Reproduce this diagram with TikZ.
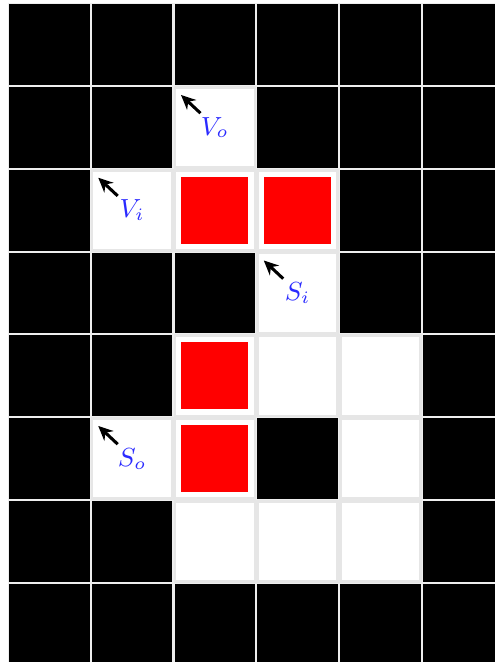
\documentclass[tikz,border=0pt]{standalone}
\usepackage{tikz}
\usetikzlibrary{arrows.meta,positioning,calc}
\definecolor{GridGray}{HTML}{E6E6E6}
\definecolor{WallGap}{HTML}{EEEEEE}
\definecolor{LabelBlue}{HTML}{2A2AFF}
\tikzset{
  wallcell/.style={draw=WallGap,line width=0.35pt,fill=black,minimum size=1cm-0.35pt,inner sep=0pt,outer sep=0pt},
  freecell/.style={draw=GridGray,line width=0.9pt,fill=white,minimum size=1cm-0.9pt,inner sep=0pt,outer sep=0pt},
  blockbox/.style={fill=red,minimum size=0.81cm,inner sep=0pt,outer sep=0pt},
  celllabel/.style={text=LabelBlue,font=\fontsize{8.8}{10}\selectfont,inner sep=1pt},
  ptrarrow/.style={-{Stealth[length=5pt,width=4.6pt]},line width=1.05pt,draw=black}
}
\begin{document}
\begin{tikzpicture}
\useasboundingbox (-0.0967,0.042) rectangle (5.885,-7.958);
\clip (-0.0967,0.042) rectangle (5.885,-7.958);
% walls everywhere first
\foreach \x in {0,...,5}
  \foreach \y in {0,...,7}
    \node[wallcell] (w-\x-\y) at (\x+0.5,-\y-0.5) {};
% open cells
\node[freecell] (vo) at (2.5,-1.5) {};
\node[freecell] (vi) at (1.5,-2.5) {};
\node[freecell] (k1) at (2.5,-2.5) {};
\node[freecell] (k2) at (3.5,-2.5) {};
\node[freecell] (si) at (3.5,-3.5) {};
\node[freecell] (k3) at (2.5,-4.5) {};
\node[freecell] (f1) at (3.5,-4.5) {};
\node[freecell] (f2) at (4.5,-4.5) {};
\node[freecell] (so) at (1.5,-5.5) {};
\node[freecell] (k4) at (2.5,-5.5) {};
\node[freecell] (f3) at (4.5,-5.5) {};
\node[freecell] (f4) at (2.5,-6.5) {};
\node[freecell] (f5) at (3.5,-6.5) {};
\node[freecell] (f6) at (4.5,-6.5) {};
% blocks
\foreach \k in {k1,k2,k3,k4}
  \node[blockbox] (\k-blk) at (\k) {};
% labels
\node[celllabel] (vo-lbl) at (vo) {$V_o$};
\node[celllabel] (vi-lbl) at (vi) {$V_i$};
\node[celllabel] (si-lbl) at (si) {$S_i$};
\node[celllabel] (so-lbl) at (so) {$S_o$};
\foreach \c in {vo,vi,si,so}
  \draw[ptrarrow] ($(\c.north west)+(0.31,-0.31)$) -- ($(\c.north west)+(0.075,-0.09)$);
\end{tikzpicture}
\end{document}
